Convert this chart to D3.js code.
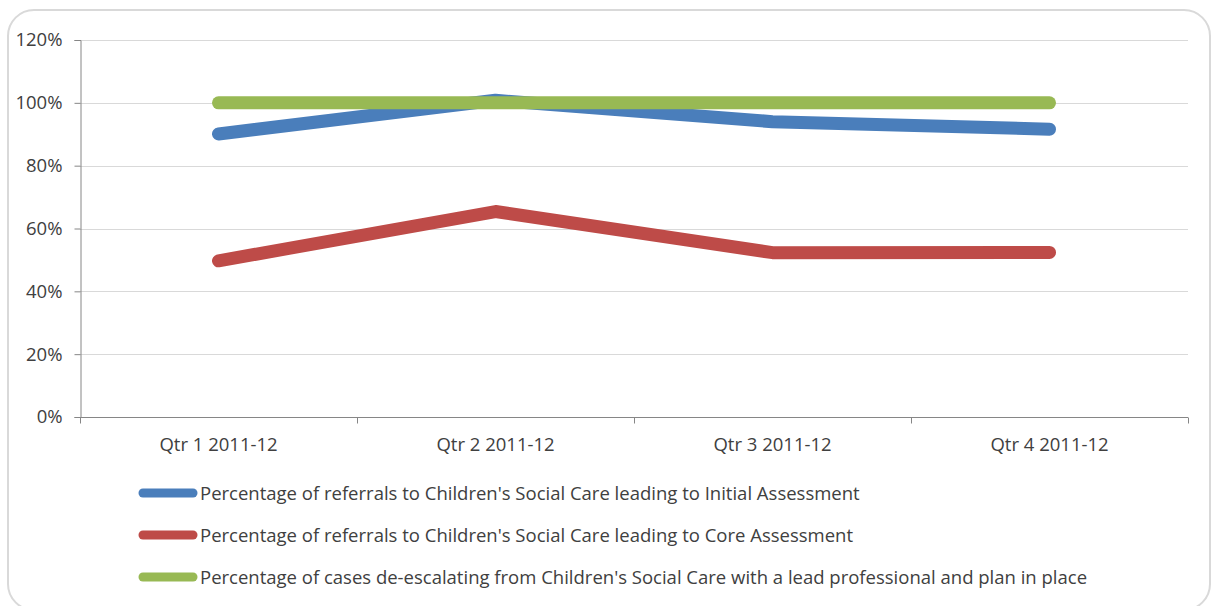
<!DOCTYPE html>
<html>
<head>
<meta charset="utf-8">
<script src="https://cdn.jsdelivr.net/npm/d3@7/dist/d3.min.js"></script>
<style>
  html, body { margin: 0; padding: 0; background: #fff; }
  svg { display: block; }
  text { font-family: "Open Sans", "Liberation Sans", Arial, sans-serif; fill: #404040; }
</style>
</head>
<body>
<svg id="chart" width="1216" height="606"></svg>
<script>
// Quarterly categories and series values (percent)
const quarters = ["Qtr 1 2011-12", "Qtr 2 2011-12", "Qtr 3 2011-12", "Qtr 4 2011-12"];
const initialAssessment = [90.1, 100.8, 94.0, 91.6];
const coreAssessment = [49.7, 65.4, 52.3, 52.4];
const deEscalating = [100, 100, 100, 100];
const seriesNames = [
  "Percentage of referrals to Children's Social Care leading to Initial Assessment",
  "Percentage of referrals to Children's Social Care leading to Core Assessment",
  "Percentage of cases de-escalating from Children's Social Care with a lead professional and plan in place"
];
const seriesColors = ["#4a7ebb", "#be4b48", "#98b954"];
const yTicks = [0, 20, 40, 60, 80, 100, 120];

const series = [initialAssessment, coreAssessment, deEscalating];

const FONT = "Open Sans, Liberation Sans, Arial, sans-serif";
const FS = 18.5;
const svg = d3.select("#chart");

// Outer chart frame
svg.append("rect")
  .attr("x", 8).attr("y", 10)
  .attr("width", 1202).attr("height", 600)
  .attr("rx", 26).attr("ry", 26)
  .attr("fill", "#fff")
  .attr("stroke", "#d9d9d9")
  .attr("stroke-width", 2);

const plot = { left: 80, right: 1188, top: 40, bottom: 417 };

const x = d3.scaleBand().domain(quarters).range([plot.left, plot.right]).paddingInner(0).paddingOuter(0);
const y = d3.scaleLinear().domain([0, 120]).range([plot.bottom, plot.top]);

// Horizontal gridlines
svg.append("g")
  .selectAll("line")
  .data(yTicks.filter(t => t > 0))
  .join("line")
  .attr("x1", plot.left).attr("x2", plot.right)
  .attr("y1", d => Math.round(y(d)) + 0.5).attr("y2", d => Math.round(y(d)) + 0.5)
  .attr("stroke", "#d9d9d9").attr("stroke-width", 1);

// Y axis
const yAxis = svg.append("g")
  .attr("transform", `translate(${plot.left + 0.5},0)`)
  .call(d3.axisLeft(y).tickValues(yTicks).tickFormat(d => d + "%").tickSize(6).tickPadding(12));
yAxis.select(".domain").attr("stroke", "#868686");
yAxis.selectAll(".tick line").attr("stroke", "#868686");
yAxis.selectAll(".tick text").attr("font-size", FS).attr("fill", "#404040")
  .attr("font-family", FONT);

// X axis with tick marks at category boundaries
const xAxisG = svg.append("g").attr("transform", `translate(0,${plot.bottom + 0.5})`);
xAxisG.append("line")
  .attr("x1", plot.left).attr("x2", plot.right)
  .attr("stroke", "#868686");
const boundaries = quarters.map(q => x(q)).concat([x(quarters[quarters.length - 1]) + x.bandwidth()]);
xAxisG.selectAll("line.tk")
  .data(boundaries)
  .join("line")
  .attr("class", "tk")
  .attr("x1", d => Math.round(d) + 0.5).attr("x2", d => Math.round(d) + 0.5)
  .attr("y1", 0).attr("y2", 6)
  .attr("stroke", "#868686");
xAxisG.selectAll("text")
  .data(quarters)
  .join("text")
  .attr("x", d => x(d) + x.bandwidth() / 2)
  .attr("y", 33)
  .attr("text-anchor", "middle")
  .attr("font-size", FS)
  .text(d => d);

// Series lines
const line = d3.line()
  .x((d, i) => x(quarters[i]) + x.bandwidth() / 2)
  .y(d => y(d));

svg.append("g")
  .selectAll("path")
  .data(series)
  .join("path")
  .attr("d", d => line(d))
  .attr("fill", "none")
  .attr("stroke", (d, i) => seriesColors[i])
  .attr("stroke-width", 13)
  .attr("stroke-linecap", "round")
  .attr("stroke-linejoin", "round");

// Legend
const legend = svg.append("g");
const legendY = [493, 535, 577];
seriesNames.forEach((name, i) => {
  legend.append("line")
    .attr("x1", 143).attr("x2", 193)
    .attr("y1", legendY[i]).attr("y2", legendY[i])
    .attr("stroke", seriesColors[i])
    .attr("stroke-width", 9)
    .attr("stroke-linecap", "round");
  legend.append("text")
    .attr("x", 200).attr("y", legendY[i] + 6.5)
    .attr("font-size", FS)
    .text(name);
});
</script>
</body>
</html>
